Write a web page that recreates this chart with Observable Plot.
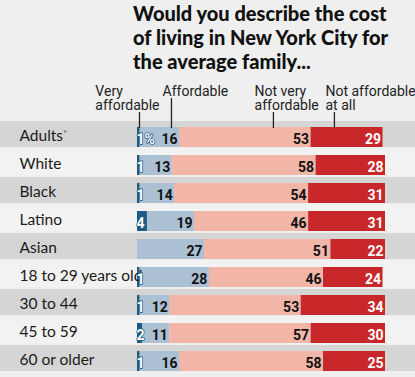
<!DOCTYPE html>
<html>
<head>
<meta charset="utf-8">
<script src="https://cdn.jsdelivr.net/npm/d3@7"></script>
<script src="https://cdn.jsdelivr.net/npm/@observablehq/plot@0.6"></script>
<style>
  html, body { margin: 0; padding: 0; background: #efefef; }
  #wrap { width: 415px; height: 377px; overflow: hidden; position: relative; }
  #title { height: 78px; box-sizing: border-box; padding: 1px 0 0 133px;
    font-family: Lato, sans-serif; font-weight: 900; font-size: 20px; line-height: 24px; color: #111; }
  svg { display: block; }
</style>
</head>
<body>
<div id="wrap">
  <div id="title">Would you describe the cost<br>of living in New York City for<br>the average family...</div>
  <div id="chart"></div>
</div>
<script>
// ---- data ----
const categories = ["Adults*", "White", "Black", "Latino", "Asian", "18 to 29 years old", "30 to 44", "45 to 59", "60 or older"];
const responses = ["Very affordable", "Affordable", "Not very affordable", "Not affordable at all"];
const veryAffordable = [1, 1, 1, 4, 0, 1, 1, 2, 1];
const affordable = [16, 13, 14, 19, 27, 28, 12, 11, 16];
const notVeryAffordable = [53, 58, 54, 46, 51, 46, 53, 57, 58];
const notAffordableAtAll = [29, 28, 31, 31, 22, 24, 34, 30, 25];
// header labels and where their leader lines point (in % units on the bar scale)
const headerLabels = ["Very\naffordable", "Affordable", "Not very\naffordable", "Not affordable\nat all"];
const headerTextAt = [-17, 10.1, 47.2, 75.8];
const headerLineAt = [0.8, 13.7, 54.8, 79.4];

const colors = ["#1d5a84", "#abc0d3", "#f2b6a9", "#c9282b"];
const series = [veryAffordable, affordable, notVeryAffordable, notAffordableAtAll];

// build stacked table
const table = [];
categories.forEach((c, i) => {
  let acc = 0;
  series.forEach((s, k) => {
    const v = s[i];
    table.push({category: c, row: i, response: responses[k], k, value: v, x1: acc, x2: acc + v});
    acc += v;
  });
});
const headers = headerLabels.map((t, i) => ({label: t, tx: headerTextAt[i], lx: headerLineAt[i], twoLine: t.includes("\n"), cat: categories[0]}));
const rows = categories.map((c, i) => ({category: c, i}));

const ML = 137, MR = 30;
const numFont = {fontFamily: "Roboto, sans-serif", fontWeight: 700, fontSize: 14};

const plot = Plot.plot({
  width: 415,
  height: 299,
  marginLeft: ML,
  marginRight: MR,
  marginTop: 43,
  marginBottom: 4,
  style: {background: "transparent", overflow: "visible"},
  x: {domain: [0, 100], axis: null},
  y: {domain: categories, axis: null, padding: 0},
  marks: [
    // row bands
    Plot.barX(rows.filter(d => d.i % 2 === 0), {y: "category", x1: 0, x2: 100, fill: "#d5d5d5", insetLeft: -ML, insetRight: -MR, insetBottom: 2}),
    Plot.barX(rows.filter(d => d.i % 2 === 1), {y: "category", x1: 0, x2: 100, fill: "#f2f2f2", insetLeft: -ML, insetRight: -MR, insetBottom: 2}),
    // stacked segments
    ...[1, 2, 3, 0].map(k => Plot.barX(table.filter(d => d.k === k && d.value > 0), {
      y: "category", x1: "x1", x2: "x2", fill: colors[k], insetTop: 6, insetBottom: 2
    })),
    // leader lines from header labels
    Plot.tickX(headers.filter(d => d.twoLine), {x: "lx", y: "cat", stroke: "#222", strokeWidth: 1.3, insetTop: -9, insetBottom: 21}),
    Plot.tickX(headers.filter(d => !d.twoLine), {x: "lx", y: "cat", stroke: "#222", strokeWidth: 1.3, insetTop: -23, insetBottom: 21}),
    // header labels
    Plot.text(headers, {x: "tx", text: "label", frameAnchor: "top", lineAnchor: "top", dy: -35, textAnchor: "start",
      fontFamily: "Roboto, sans-serif", fontSize: 14, fill: "#222", lineHeight: 1.0}),
    // row labels
    Plot.text(rows, {y: "category", text: "category", frameAnchor: "left", dx: 19 - ML, dy: 1, textAnchor: "start",
      fontFamily: "Lato, sans-serif", fontSize: 15.5, fill: "#1a1a1a"}),
    // value labels for affordable / not very affordable
    Plot.text(table.filter(d => (d.k === 1 || d.k === 2) && d.value > 0), {
      x: "x2", y: "category", text: d => String(d.value), textAnchor: "end", dx: -2, dy: 4, fill: "#111", ...numFont
    }),
    Plot.text(table.filter(d => d.k === 3), {
      x: "x2", y: "category", text: d => String(d.value), textAnchor: "end", dx: -2, dy: 4, fill: "#fff", ...numFont
    }),
    // very affordable labels
    Plot.text(table.filter(d => d.k === 0 && d.value > 0), {
      x: "x1", y: "category", text: d => d.row === 0 ? d.value + "%" : String(d.value), textAnchor: "start", dx: -1, dy: 4,
      fill: "#fff", stroke: colors[0], strokeWidth: 1.5, paintOrder: "stroke", ...numFont
    })
  ]
});
document.getElementById("chart").appendChild(plot);

// superscript asterisk on "Adults*"
d3.select(plot).selectAll("text").filter(function() { return this.textContent === "Adults*"; }).each(function() {
  const t = d3.select(this);
  t.text("Adults");
  t.append("tspan").attr("dy", "-0.45em").attr("font-size", "0.6em").attr("fill", "#666").text("*");
});
</script>
</body>
</html>
